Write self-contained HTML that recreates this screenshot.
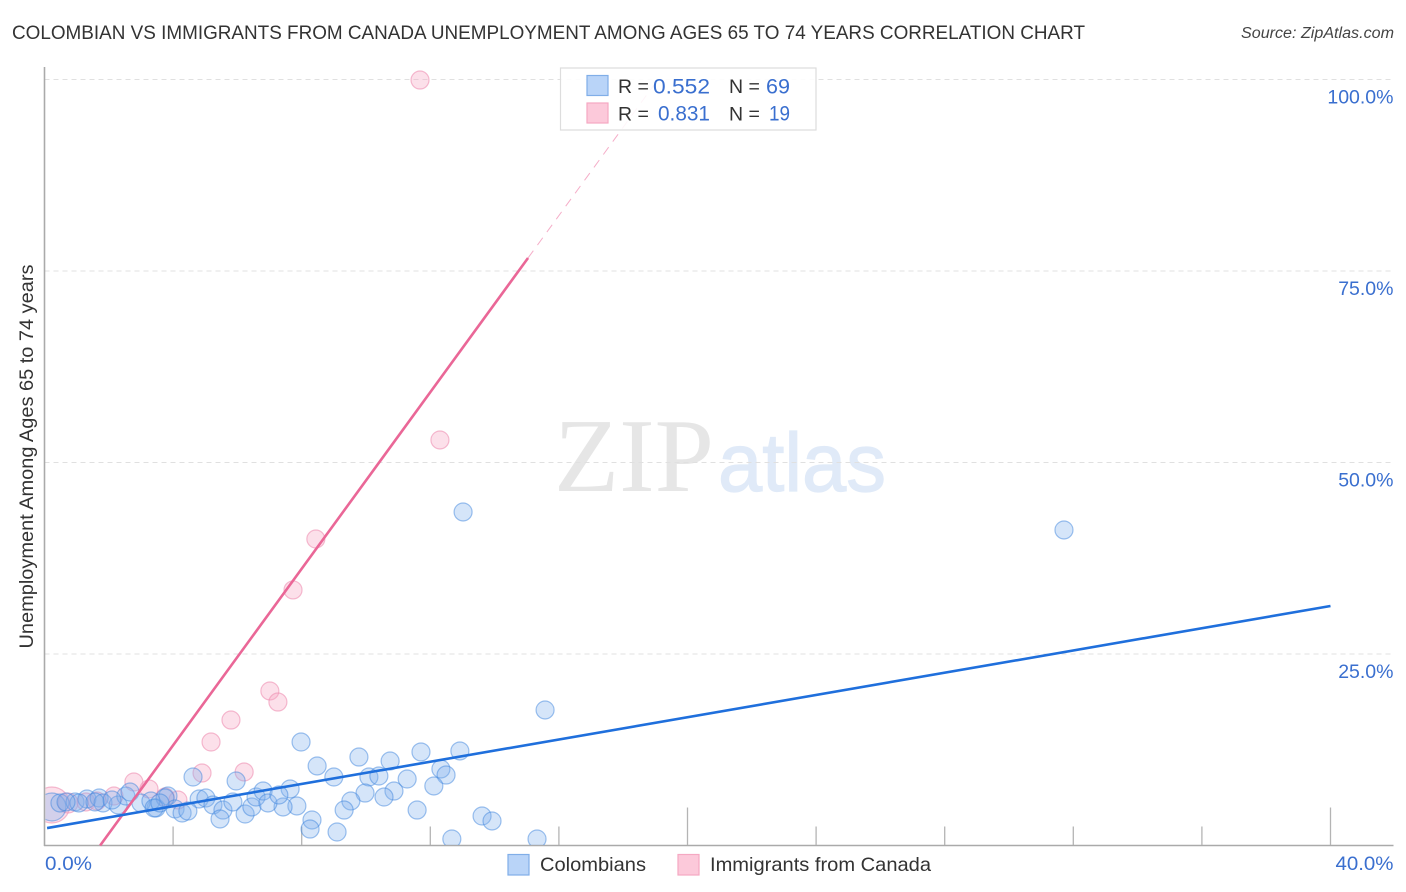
<!DOCTYPE html>
<html lang="en">
<head>
<meta charset="utf-8">
<title>Colombian vs Immigrants from Canada Unemployment Correlation Chart</title>
<style>
html,body{margin:0;padding:0;background:#fff;width:1406px;height:892px;overflow:hidden}
svg{display:block;font-family:"Liberation Sans",sans-serif}
</style>
</head>
<body>
<svg id="chart" xmlns="http://www.w3.org/2000/svg" width="1406" height="892" viewBox="0 0 1406 892">
  <defs>
    <clipPath id="plot-clip"><rect x="45.5" y="60" width="1348" height="785"/></clipPath>
  </defs>
  <rect x="0" y="0" width="1406" height="892" fill="#ffffff"/>
  <text x="12" y="39" font-size="19.5" fill="#333333" textLength="1073" lengthAdjust="spacingAndGlyphs">COLOMBIAN VS IMMIGRANTS FROM CANADA UNEMPLOYMENT AMONG AGES 65 TO 74 YEARS CORRELATION CHART</text>
  <text x="1394" y="38" font-size="15.5" font-style="italic" fill="#444444" text-anchor="end" textLength="153" lengthAdjust="spacingAndGlyphs">Source: ZipAtlas.com</text>

  <g id="watermark">
    <text x="554" y="491" font-family="'Liberation Serif',serif" font-size="105" fill="#e6e6e6" textLength="160" lengthAdjust="spacingAndGlyphs">ZIP</text>
    <text x="718" y="491" font-size="83" fill="#e0eaf8" stroke="#e0eaf8" stroke-width="1.2" textLength="168" lengthAdjust="spacingAndGlyphs">atlas</text>
  </g>

  <g id="grid"></g>
  <g id="axes"></g>
  <g id="pink-points" clip-path="url(#plot-clip)"></g>
  <g id="blue-points" clip-path="url(#plot-clip)"></g>
  <g id="trends"></g>

  <text transform="translate(33,456.5) rotate(-90)" font-size="19" fill="#333333" text-anchor="middle" textLength="384" lengthAdjust="spacingAndGlyphs">Unemployment Among Ages 65 to 74 years</text>

  <g>
    <rect x="560.5" y="68" width="255.5" height="62" fill="#ffffff" fill-opacity="0.88" stroke="#dddddd" stroke-width="1.2"/>
    <rect x="587" y="75.5" width="21" height="20" fill="#b9d4f8" stroke="#80aee8" stroke-width="1.2"/>
    <rect x="587" y="103" width="21" height="20" fill="#fcc9da" stroke="#f5a8c2" stroke-width="1.2"/>
    <text x="618" y="93" font-size="19.5" fill="#333333">R =</text>
    <text x="653" y="93.5" font-size="21" fill="#3a6fcf" textLength="57" lengthAdjust="spacingAndGlyphs">0.552</text>
    <text x="729" y="93" font-size="19.5" fill="#333333">N =</text>
    <text x="766" y="93.5" font-size="21" fill="#3a6fcf" textLength="24" lengthAdjust="spacingAndGlyphs">69</text>
    <text x="618" y="120.5" font-size="19.5" fill="#333333">R =</text>
    <text x="658" y="120.5" font-size="21" fill="#3a6fcf" textLength="52" lengthAdjust="spacingAndGlyphs">0.831</text>
    <text x="729" y="120.5" font-size="19.5" fill="#333333">N =</text>
    <text x="769" y="120.5" font-size="21" fill="#3a6fcf" textLength="21" lengthAdjust="spacingAndGlyphs">19</text>
  </g>

  <g>
    <rect x="508" y="854.5" width="21" height="20.5" fill="#b9d4f8" stroke="#80aee8" stroke-width="1.2"/>
    <text x="540" y="871" font-size="19.5" fill="#333333" textLength="106" lengthAdjust="spacingAndGlyphs">Colombians</text>
    <rect x="678" y="854.5" width="21" height="20.5" fill="#fcc9da" stroke="#f5a8c2" stroke-width="1.2"/>
    <text x="710" y="871" font-size="19.5" fill="#333333" textLength="221" lengthAdjust="spacingAndGlyphs">Immigrants from Canada</text>
  </g>
</svg>
<script>
const colombianX = [0.23,13.02,31.71,15.57,7.98,8.48,9.00,9.78,10.09,10.40,10.75,11.71,12.92,12.33,12.49,12.11,11.28,10.87,10.56,9.97,9.53,9.32,11.59,8.32,8.26,9.10,7.64,7.85,7.42,13.61,13.92,12.67,15.32,4.62,5.96,4.81,5.02,5.24,5.55,5.46,5.86,6.24,6.45,6.58,6.80,6.95,7.29,3.47,3.84,3.75,4.06,4.28,4.46,0.48,0.95,1.32,1.07,1.70,1.82,2.29,2.53,2.66,3.00,3.31,3.41,0.67,2.10,1.57,3.59];
const colombianY = [5.03,43.54,41.19,17.69,13.51,10.38,8.94,11.55,8.94,9.07,11.03,12.21,12.34,9.99,9.20,7.77,8.68,7.11,6.33,6.85,5.81,4.63,4.63,3.33,2.15,1.76,7.38,5.16,5.03,3.85,3.20,0.85,0.85,8.94,8.42,6.07,6.20,5.29,4.63,3.46,5.68,4.11,5.03,6.33,7.11,5.55,6.59,4.90,6.46,6.20,4.77,4.24,4.50,5.55,5.68,6.07,5.55,6.20,5.55,5.29,6.46,6.98,5.55,5.81,4.90,5.68,5.94,5.68,5.55];
const immigrantX = [0.23,11.68,12.30,8.44,7.73,7.01,7.26,5.80,5.18,4.90,6.21,2.78,3.25,3.75,4.15,2.16,0.73,1.29,1.63];
const immigrantY = [5.29,99.93,52.94,40.01,33.36,20.17,18.73,16.38,13.51,9.46,9.60,8.29,7.38,6.33,5.94,6.46,5.55,5.68,5.81];
const colombianTrendX = [0.08,40];
const colombianTrendY = [2.28,31.27];
const immigrantTrendX = [1.73,15.04];
const immigrantTrendY = [0,76.70];
const immigrantTrendExtensionX = [15.04,19.08];
const immigrantTrendExtensionY = [76.70,100];
const yTickValues = [25,50,75,100];
const yTickLabels = ["25.0%","50.0%","75.0%","100.0%"];
const xTickValues = [4,8,12,16,20,24,28,32,36,40];
const xMajorTicks = [20,40];
const xEndLabels = ["0.0%","40.0%"];

const SVGNS = "http://www.w3.org/2000/svg";
const xScale = v => 44.5 + v * 32.15;
const yScale = v => 845.5 - v * 7.66;

function make(parent, tag, attrs, text) {
  const el = document.createElementNS(SVGNS, tag);
  for (const k in attrs) el.setAttribute(k, attrs[k]);
  if (text !== undefined) el.textContent = text;
  parent.appendChild(el);
  return el;
}

const grid = document.getElementById("grid");
const axes = document.getElementById("axes");
const bluePoints = document.getElementById("blue-points");
const pinkPoints = document.getElementById("pink-points");
const trends = document.getElementById("trends");

yTickValues.forEach((v, i) => {
  const line = make(grid, "line", {x1: 44.5, x2: 1393, y1: yScale(v), y2: yScale(v), stroke: "#e0e0e0", "stroke-width": 1, "stroke-dasharray": "5 4"});
  
  
  const label = make(axes, "text", {x: 1393.5, y: yScale(v) + 24, "font-size": 19.5, fill: "#3a6fcf", "text-anchor": "end"}, yTickLabels[i]);
  
  
});

const yAxis = make(axes, "line", {x1: 44.5, x2: 44.5, y1: 67, y2: 846, stroke: "#aaaaaa", "stroke-width": 1.6});


const xAxis = make(axes, "line", {x1: 44, x2: 1393.5, y1: 845.5, y2: 845.5, stroke: "#aaaaaa", "stroke-width": 1.6});



xTickValues.forEach(v => {
  const top = xMajorTicks.includes(v) ? 807.5 : 826.5;
  const tick = make(axes, "line", {x1: xScale(v), x2: xScale(v), y1: top, y2: 845, stroke: "#b4b4b4", "stroke-width": 1.3});
  
  
});

const xStartLabel = make(axes, "text", {x: 45, y: 870, "font-size": 19.5, fill: "#3a6fcf", textLength: 47, lengthAdjust: "spacingAndGlyphs"}, xEndLabels[0]);


const xEndLabel = make(axes, "text", {x: 1335.5, y: 870, "font-size": 19.5, fill: "#3a6fcf", textLength: 58, lengthAdjust: "spacingAndGlyphs"}, xEndLabels[1]);



immigrantX.forEach((v, i) => {
  const dot = make(pinkPoints, "circle", {cx: xScale(v), cy: yScale(immigrantY[i]), r: i === 0 ? 18 : (i === 16 ? 10 : 9), fill: "#f7a8c4", "fill-opacity": 0.36, stroke: "#ef8fb2", "stroke-opacity": 0.6, "stroke-width": 1.2});
  
  
});

colombianX.forEach((v, i) => {
  const dot = make(bluePoints, "circle", {cx: xScale(v), cy: yScale(colombianY[i]), r: i === 0 ? 14 : 9, fill: "#7fb0ee", "fill-opacity": 0.33, stroke: "#3f85de", "stroke-opacity": 0.5, "stroke-width": 1.2});
  
  
});

const extension = make(trends, "line", {x1: xScale(immigrantTrendExtensionX[0]), y1: yScale(immigrantTrendExtensionY[0]), x2: xScale(immigrantTrendExtensionX[1]), y2: yScale(immigrantTrendExtensionY[1]), stroke: "#ec6a9b", "stroke-opacity": 0.55, "stroke-width": 1, "stroke-dasharray": "9 7"});


const pinkTrend = make(trends, "line", {x1: xScale(immigrantTrendX[0]), y1: yScale(immigrantTrendY[0]), x2: xScale(immigrantTrendX[1]), y2: yScale(immigrantTrendY[1]), stroke: "#ea6797", "stroke-width": 2.6});


const blueTrend = make(trends, "line", {x1: xScale(colombianTrendX[0]), y1: yScale(colombianTrendY[0]), x2: xScale(colombianTrendX[1]), y2: yScale(colombianTrendY[1]), stroke: "#1f6fdc", "stroke-width": 2.6});


</script>
</body>
</html>
